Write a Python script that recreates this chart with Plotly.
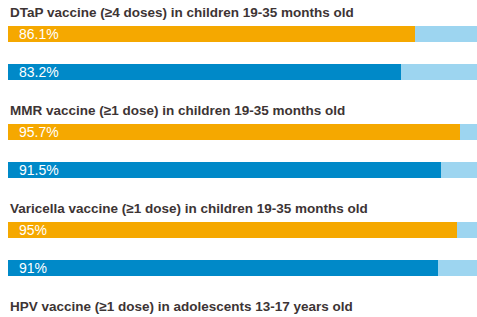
import plotly.graph_objects as go

# Data
titles = [
    "DTaP vaccine (≥4 doses) in children 19-35 months old",
    "MMR vaccine (≥1 dose) in children 19-35 months old",
    "Varicella vaccine (≥1 dose) in children 19-35 months old",
    "HPV vaccine (≥1 dose) in adolescents 13-17 years old",
]
series_a = [86.1, 95.7, 95.0]   # orange
series_b = [83.2, 91.5, 91.0]   # blue
labels_a = ["86.1%", "95.7%", "95%"]
labels_b = ["83.2%", "91.5%", "91%"]
full_scale = 100

# Layout constants (pixel-like y units)
W, H = 477, 317
GROUP = 98
TITLE_OFF, A_OFF, B_OFF = 12, 34, 71.5
BAR_H = 16

ORANGE = "#F5A800"
BLUE = "#0089C8"
LIGHT = "#9DD5F0"
TITLE_COLOR = "#3D3434"

n = len(series_a)
ya = [i * GROUP + A_OFF for i in range(n)]
yb = [i * GROUP + B_OFF for i in range(n)]

fig = go.Figure()
fig.add_trace(go.Bar(
    x=[full_scale] * (2 * n), y=ya + yb, orientation="h", width=BAR_H,
    marker=dict(color=LIGHT, line=dict(width=0)), hoverinfo="skip", showlegend=False,
))
fig.add_trace(go.Bar(
    x=series_a, y=ya, orientation="h", width=BAR_H,
    marker=dict(color=ORANGE, line=dict(width=0)), showlegend=False,
))
fig.add_trace(go.Bar(
    x=series_b, y=yb, orientation="h", width=BAR_H,
    marker=dict(color=BLUE, line=dict(width=0)), showlegend=False,
))

ann = []
for i, t in enumerate(titles):
    ann.append(dict(
        x=0, y=i * GROUP + TITLE_OFF, xref="x", yref="y", text="<b>" + t + "</b>",
        showarrow=False, xanchor="left", yanchor="middle",
        font=dict(family="Liberation Sans, Arial, sans-serif", size=13.5, color=TITLE_COLOR),
    ))
for y, lab in zip(ya + yb, labels_a + labels_b):
    ann.append(dict(
        x=0, y=y, xref="x", yref="y", text=lab, showarrow=False,
        xanchor="left", yanchor="middle", xshift=9,
        font=dict(family="Liberation Sans, Arial, sans-serif", size=14, color="#FFFFFF"),
    ))

px_per_unit = 472.7 / 100
left_px = 8
fig.update_layout(
    width=W, height=H, margin=dict(l=0, r=0, t=0, b=0),
    paper_bgcolor="white", plot_bgcolor="white",
    barmode="overlay", bargap=0,
    xaxis=dict(range=[-left_px / px_per_unit, (W - left_px) / px_per_unit],
               visible=False, fixedrange=True),
    yaxis=dict(range=[H, 0], visible=False, fixedrange=True),
    annotations=ann,
)

fig.write_html(
    "out.html",
    config={"displayModeBar": False},
    post_script="document.body.style.margin='0';document.body.style.overflow='hidden';",
)
